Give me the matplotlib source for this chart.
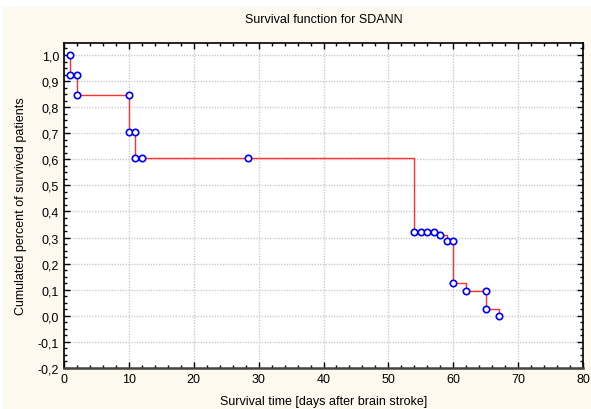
import numpy as np
import matplotlib
matplotlib.use("Agg")
import matplotlib.pyplot as plt
from matplotlib.patches import Rectangle
from matplotlib.ticker import MultipleLocator, FuncFormatter

plt.rcParams['font.family'] = ['Liberation Sans', 'DejaVu Sans']

# step function of the survival curve
step_t = [1, 1, 2, 10, 11, 54, 58, 59, 60, 62, 65, 67]
step_s = [1.0, 0.923, 0.846, 0.705, 0.607, 0.32, 0.31, 0.286, 0.125, 0.094, 0.025, 0.0]

# observed points (circles)
obs_t = [1, 1, 2, 2, 10, 10, 11, 11, 12, 28.4, 54, 55, 56, 57, 58, 59, 60, 60, 62, 65, 65, 67]
obs_s = [1.0, 0.923, 0.923, 0.846, 0.846, 0.705, 0.705, 0.607, 0.607, 0.607,
         0.32, 0.32, 0.32, 0.32, 0.31, 0.286, 0.286, 0.125, 0.094, 0.094, 0.025, 0.0]

fig = plt.figure(figsize=(5.91, 4.10), dpi=100)
fig.patch.set_facecolor('white')
fig.patches.append(Rectangle((3 / 591, 0), 1, 1 - 8 / 410, transform=fig.transFigure,
                             facecolor='#fdf9ee', edgecolor='none', zorder=-10))

ax = fig.add_axes([64 / 591, 1 - 369 / 410, (583 - 64) / 591, (369 - 44) / 410])
ax.set_facecolor('white')

ax.plot(step_t, step_s, drawstyle='steps-post', color='#ff3030', lw=1.0, zorder=2)
ax.plot(obs_t, obs_s, 'o', ms=4.6, mfc='white', mec='#0000ff', mew=1.2, zorder=3)

ax.set_xlim(0, 80)
ax.set_ylim(-0.2, 1.046)
ax.xaxis.set_major_locator(MultipleLocator(10))
ax.xaxis.set_minor_locator(MultipleLocator(2))
ax.yaxis.set_minor_locator(MultipleLocator(0.025))
ax.set_yticks(np.arange(-0.2, 1.01, 0.1))
ax.yaxis.set_major_formatter(FuncFormatter(lambda v, p: f"{v:.1f}".replace('.', ',').replace('-0,0', '0,0')))

ax.tick_params(which='both', direction='in', top=True, right=True, labelsize=9, colors='black')
ax.tick_params(which='major', length=4, width=1)
ax.tick_params(which='minor', length=2, width=1)
ax.grid(True, which='major', ls=(0, (1, 1)), color='#cccccc', lw=1)
for s in ax.spines.values():
    s.set_linewidth(1.2)
    s.set_color('black')
ax.spines['bottom'].set_color('#444444')
ax.spines['bottom'].set_linewidth(1.8)

ax.set_title('Survival function for SDANN', fontsize=9, pad=15)
ax.set_xlabel('Survival time [days after brain stroke]', fontsize=9, labelpad=7)
ax.set_ylabel('Cumulated percent of survived patients', fontsize=9, labelpad=8)

fig.savefig('out.png', dpi=100, facecolor=fig.get_facecolor())
